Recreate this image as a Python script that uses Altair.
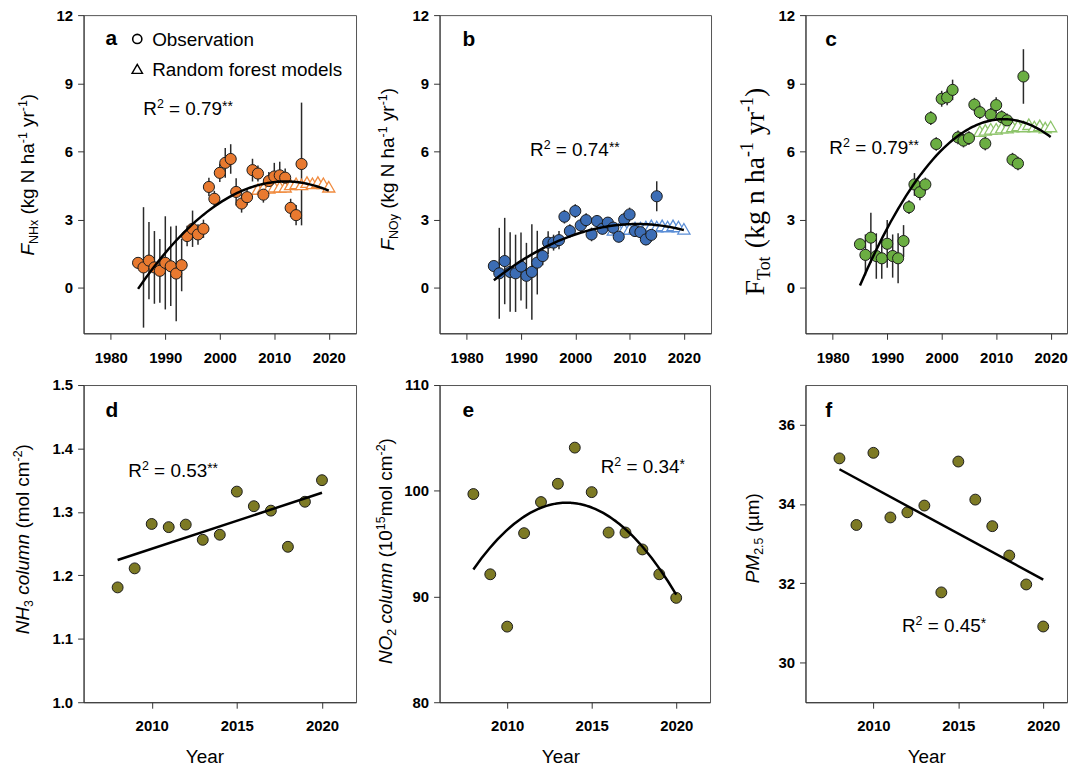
import altair as alt
import pandas as pd

FONT = "Liberation Sans"
SERIF = "Liberation Serif"

# ---------------- data ----------------
obs_years = list(range(1985, 2016))
nhx_obs = [1.1, 0.9, 1.2, 0.9, 0.75, 1.1, 0.95, 0.63, 1.0, 2.28, 2.6, 2.35, 2.6, 4.44, 3.92, 5.06,
           5.5, 5.67, 4.22, 3.71, 3.99, 5.18, 5.03, 4.1, 4.7, 4.9, 4.95, 4.85, 3.52, 3.2, 5.45]
nhx_err = [0.2, 2.65, 1.7, 1.6, 1.4, 2.05, 1.75, 2.1, 1.15, 0.45, 0.8, 0.45, 0.4, 0.4, 0.35, 0.4,
           0.65, 0.65, 0.6, 0.4, 0.35, 0.5, 0.35, 0.35, 0.4, 0.6, 0.6, 0.4, 0.4, 0.45, 2.7]
noy_obs = [0.96, 0.64, 1.18, 0.7, 0.64, 0.94, 0.53, 0.7, 1.11, 1.4, 1.99, 1.99, 2.1, 3.13, 2.5, 3.38,
           2.75, 2.98, 2.35, 2.94, 2.6, 2.87, 2.65, 2.25, 3.01, 3.23, 2.5, 2.45, 2.13, 2.33, 4.03]
noy_err = [0.2, 2.0, 1.9, 1.75, 1.7, 1.5, 1.45, 2.1, 1.4, 0.4, 0.5, 0.35, 0.4, 0.3, 0.3, 0.3,
           0.3, 0.3, 0.3, 0.25, 0.25, 0.25, 0.25, 0.25, 0.3, 0.3, 0.25, 0.25, 0.25, 0.3, 0.66]
tot_obs = [1.92, 1.45, 2.21, 1.4, 1.3, 1.94, 1.4, 1.3, 2.06, 3.55, 4.55, 4.21, 4.55, 7.47, 6.33, 8.32,
           8.38, 8.71, 6.62, 6.48, 6.59, 8.06, 7.73, 6.35, 7.62, 8.04, 7.51, 7.37, 5.64, 5.47, 9.3]
tot_err = [0.2, 0.9, 1.1, 1.0, 0.9, 1.05, 0.95, 1.1, 0.7, 0.3, 0.5, 0.35, 0.3, 0.3, 0.3, 0.35,
           0.35, 0.45, 0.3, 0.3, 0.3, 0.3, 0.3, 0.3, 0.3, 0.35, 0.3, 0.3, 0.3, 0.3, 1.2]

rf_years = list(range(2007, 2021))
nhx_rf = [4.35, 4.4, 4.4, 4.45, 4.45, 4.45, 4.55, 4.6, 4.55, 4.65, 4.6, 4.65, 4.6, 4.45]
noy_rf = [2.55, 2.6, 2.6, 2.6, 2.65, 2.65, 2.7, 2.75, 2.7, 2.75, 2.7, 2.75, 2.7, 2.6]
tot_rf = [6.9, 6.95, 7.0, 7.0, 7.05, 7.05, 7.1, 7.15, 7.1, 7.2, 7.1, 7.15, 7.05, 7.1]

sat_years = list(range(2008, 2021))
nh3_col = [1.181, 1.211, 1.281, 1.276, 1.280, 1.256, 1.264, 1.332, 1.309, 1.302, 1.245, 1.316, 1.350]
no2_col = [99.69, 92.1, 87.15, 95.99, 98.93, 100.66, 104.08, 99.87, 96.05, 96.05, 94.45, 92.1, 89.87]
pm25 = [35.15, 33.47, 35.29, 33.66, 33.79, 33.96, 31.77, 35.07, 34.11, 33.44, 32.70, 31.97, 30.91]

top_ticks_x = [1980, 1990, 2000, 2010, 2020]
top_ticks_y = [0, 3, 6, 9, 12]
bot_ticks_x = [2010, 2015, 2020]

# ---------------- text helpers ----------------
ARIAL = {' ': 278, '(': 333, ')': 333, '-': 333, '.': 278, '=': 584, '*': 389, 'µ': 576}
for ch in '0123456789':
    ARIAL[ch] = 556
ARIAL.update(dict(zip('ABCDEFGHIJKLMNOPQRSTUVWXYZ',
                      [667, 667, 722, 722, 667, 611, 778, 722, 278, 500, 667, 556, 833, 722, 778,
                       667, 778, 722, 667, 611, 722, 667, 944, 667, 667, 611])))
ARIAL.update(dict(zip('abcdefghijklmnopqrstuvwxyz',
                      [556, 556, 500, 556, 556, 278, 556, 556, 222, 222, 500, 222, 833, 556, 556,
                       556, 556, 333, 500, 278, 556, 500, 722, 500, 500, 500])))
TIMES = {' ': 250, '(': 333, ')': 333, '-': 333, '1': 500, 'F': 556, 'T': 611, 'o': 500, 't': 278,
         'k': 500, 'g': 500, 'n': 500, 'h': 500, 'a': 444, 'y': 500, 'r': 333}

ONE = pd.DataFrame({'k': [0]})


def tw(s, size, table):
    return sum(table.get(c, 556) for c in s) * size / 1000.0


def rot_title(pieces, bx, cy, font=FONT, table=ARIAL, sub=4, sup=-7):
    total = sum(tw(p[0], p[1], table) for p in pieces)
    start = cy + total / 2.0
    out, cum = [], 0.0
    for t, s, st, kind in pieces:
        dy = sub if kind == 'sub' else (sup if kind == 'sup' else 0)
        body = t.lstrip(' ')
        lead = tw(t[:len(t) - len(body)], s, table)
        out.append(alt.Chart(ONE).mark_text(
            text=body, angle=270, align='left', baseline='alphabetic', font=font, fontSize=s,
            fontStyle=st, dx=cum + lead, dy=dy, color='black'
        ).encode(x=alt.value(bx), y=alt.value(start)))
        cum += tw(t, s, table)
    return out


def h_text(pieces, left, base, weight='normal'):
    out, cum = [], 0.0
    for t, s, kind in pieces:
        dy = -7 if kind == 'sup' else (-4 if kind == 'ast' else 0)
        body = t.lstrip(' ')
        lead = tw(t[:len(t) - len(body)], s, ARIAL)
        out.append(alt.Chart(ONE).mark_text(
            text=body, align='left', baseline='alphabetic', font=FONT, fontSize=s,
            fontWeight=weight, dx=cum + lead, dy=dy, color='black'
        ).encode(x=alt.value(left), y=alt.value(base)))
        cum += tw(t, s, ARIAL)
    return out


def r2(value, stars, left, base):
    return h_text([("R", 19, 'n'), ("2", 12.5, 'sup'), (" = " + value, 19, 'n'), (stars, 14, 'ast')],
                  left, base)


def letter(ch, left, base):
    return h_text([(ch, 21, 'n')], left, base, weight='bold')


# ---------------- panels ----------------
def top_panel(vals, errs, rf_vals, fill, rf_col, xmax, width, extras):
    obs = pd.DataFrame({'year': obs_years, 'v': vals, 'e': errs})
    rf = pd.DataFrame({'year': rf_years, 'v': rf_vals})
    fit = pd.concat([obs[['year', 'v']], rf], ignore_index=True)
    xs = alt.Scale(domain=[1975, xmax], nice=False, zero=False)
    ys = alt.Scale(domain=[-2, 12], nice=False, zero=False)
    xax = alt.Axis(values=top_ticks_x, format='d', labelPadding=11, title=None)
    yax = alt.Axis(values=top_ticks_y, format='d', title=None)
    err = alt.Chart(obs).transform_calculate(
        lo='datum.v - datum.e', hi='datum.v + datum.e'
    ).mark_rule(color='#2a2a2a', strokeWidth=1.5).encode(
        x=alt.X('year:Q', scale=xs, axis=xax),
        y=alt.Y('lo:Q', scale=ys, axis=yax), y2='hi:Q')
    tri = alt.Chart(rf).mark_point(
        shape='triangle-up', filled=True, fill='white', stroke=rf_col, strokeWidth=1.3,
        size=150, opacity=1, fillOpacity=1, strokeOpacity=1
    ).encode(x='year:Q', y='v:Q')
    dots = alt.Chart(obs).mark_circle(
        fill=fill, stroke='#1c1c1c', strokeWidth=1, size=125, opacity=1
    ).encode(x='year:Q', y='v:Q')
    line = alt.Chart(fit).transform_regression(
        'year', 'v', method='poly', order=2, extent=[1985, 2020]
    ).mark_line(color='black', strokeWidth=2.5).encode(x='year:Q', y='v:Q')
    return alt.layer(err, tri, dots, line, *extras).properties(width=width, height=320)


def bottom_panel(vals, ydom, yticks, yfmt, fill, method, order, xmax, width, extras):
    df = pd.DataFrame({'year': sat_years, 'v': vals})
    xs = alt.Scale(domain=[2006, xmax], nice=False, zero=False)
    ys = alt.Scale(domain=ydom, nice=False, zero=False)
    xax = alt.Axis(values=bot_ticks_x, format='d', labelPadding=10, title=None)
    yax = alt.Axis(values=yticks, format=yfmt, title=None)
    dots = alt.Chart(df).mark_circle(
        fill=fill, stroke='#1c1c1c', strokeWidth=1, size=120, opacity=1
    ).encode(x=alt.X('year:Q', scale=xs, axis=xax), y=alt.Y('v:Q', scale=ys, axis=yax))
    if method == 'poly':
        reg = alt.Chart(df).transform_regression('year', 'v', method='poly', order=order,
                                                 extent=[2008, 2020])
    else:
        reg = alt.Chart(df).transform_regression('year', 'v', method='linear', extent=[2008, 2020])
    line = reg.mark_line(color='black', strokeWidth=2.5).encode(x='year:Q', y='v:Q')
    year = alt.Chart(ONE).mark_text(text='Year', align='center', baseline='alphabetic', font=FONT,
                                    fontSize=19, color='black').encode(
        x=alt.value(122), y=alt.value(380))
    return alt.layer(dots, line, year, *extras).properties(width=width, height=319)


unit = [(" (kg N ha", 19, 'normal', 'n'), ("-1", 12.5, 'normal', 'sup'), (" yr", 19, 'normal', 'n'),
        ("-1", 12.5, 'normal', 'sup'), (")", 19, 'normal', 'n')]

legend = [
    alt.Chart(ONE).mark_point(shape='circle', filled=False, stroke='black', strokeWidth=1.6, size=85,
                              opacity=1).encode(x=alt.value(54), y=alt.value(24)),
    alt.Chart(ONE).mark_point(shape='triangle-up', filled=False, stroke='black', strokeWidth=1.4,
                              size=110, opacity=1).encode(x=alt.value(54), y=alt.value(54)),
] + h_text([("Observation", 19, 'n')], 69, 31) + h_text([("Random forest models", 19, 'n')], 69, 61)

pa = top_panel(nhx_obs, nhx_err, nhx_rf, '#E8792F', '#F08A3E', 2025, 274,
               letter('a', 22, 30) + legend + r2('0.79', '**', 60, 100)
               + rot_title([("F", 19, 'italic', 'n'), ("NHx", 12.5, 'normal', 'sub')] + unit, -50, 160.5))
pb = top_panel(noy_obs, noy_err, noy_rf, '#3C6DB5', '#5B8ED6', 2025, 273,
               letter('b', 23, 31) + r2('0.74', '**', 91, 142)
               + rot_title([("F", 19, 'italic', 'n'), ("NOy", 12.5, 'normal', 'sub')] + unit, -46, 155))
pc = top_panel(tot_obs, tot_err, tot_rf, '#6BAE42', '#8DC46A', 2023, 263,
               letter('c', 20, 31) + r2('0.79', '**', 24, 140)
               + rot_title([("F", 28, 'normal', 'n'), ("Tot", 18, 'normal', 'sub'),
                            (" (kg n ha", 28, 'normal', 'n'), ("-1", 18, 'normal', 'sup'),
                            (" yr", 28, 'normal', 'n'), ("-1", 18, 'normal', 'sup'),
                            (")", 28, 'normal', 'n')], -42, 177.5, font=SERIF, table=TIMES,
                           sub=6, sup=-11))

pd_ = bottom_panel(nh3_col, [1.0, 1.5], [1.0, 1.1, 1.2, 1.3, 1.4, 1.5], '.1f', '#7D7A24', 'linear', 1,
                   2022, 274,
                   letter('d', 22, 32) + r2('0.53', '**', 45, 92)
                   + rot_title([("NH", 19, 'italic', 'n'), ("3", 12.5, 'normal', 'sub'),
                                (" column", 19, 'italic', 'n'), (" (mol cm", 19, 'normal', 'n'),
                                ("-2", 12.5, 'normal', 'sup'), (")", 19, 'normal', 'n')], -54.7, 155))
pe = bottom_panel(no2_col, [80, 110], [80, 90, 100, 110], 'd', '#7D7A24', 'poly', 2, 2022, 272,
                  letter('e', 23, 32) + r2('0.34', '*', 162, 88)
                  + rot_title([("NO", 19, 'italic', 'n'), ("2", 12.5, 'normal', 'sub'),
                               (" column", 19, 'italic', 'n'), (" (10", 19, 'normal', 'n'),
                               ("15", 12.5, 'normal', 'sup'), ("mol cm", 19, 'normal', 'n'),
                               ("-2", 12.5, 'normal', 'sup'), (")", 19, 'normal', 'n')], -48, 167))
pf = bottom_panel(pm25, [29, 37], [30, 32, 34, 36], 'd', '#7D7A24', 'linear', 1, 2021.4, 263,
                  letter('f', 20, 32) + r2('0.45', '*', 97, 248)
                  + rot_title([("PM", 19, 'italic', 'n'), ("2.5", 12.5, 'normal', 'sub'),
                               (" (µm)", 19, 'normal', 'n')], -47, 154))

row1 = alt.hconcat(pa, alt.hconcat(pb, pc, spacing=95, bounds='flush'), spacing=84, bounds='flush')
row2 = alt.hconcat(pd_, alt.hconcat(pe, pf, spacing=96, bounds='flush'), spacing=84, bounds='flush')

chart = alt.vconcat(row1, row2, spacing=11).properties(
    padding={"left": 3, "top": -3, "right": 0, "bottom": 0}
).configure_view(
    stroke='#555555', strokeWidth=1
).configure_axis(
    grid=False, labelFont=FONT, labelFontSize=15, labelFontWeight='bold', labelColor='black',
    tickColor='#333333', tickSize=6, tickWidth=1, domainColor='#333333', domainWidth=1,
    labelPadding=5
)

chart.save("out.html", embed_options={"renderer": "svg", "actions": False})
